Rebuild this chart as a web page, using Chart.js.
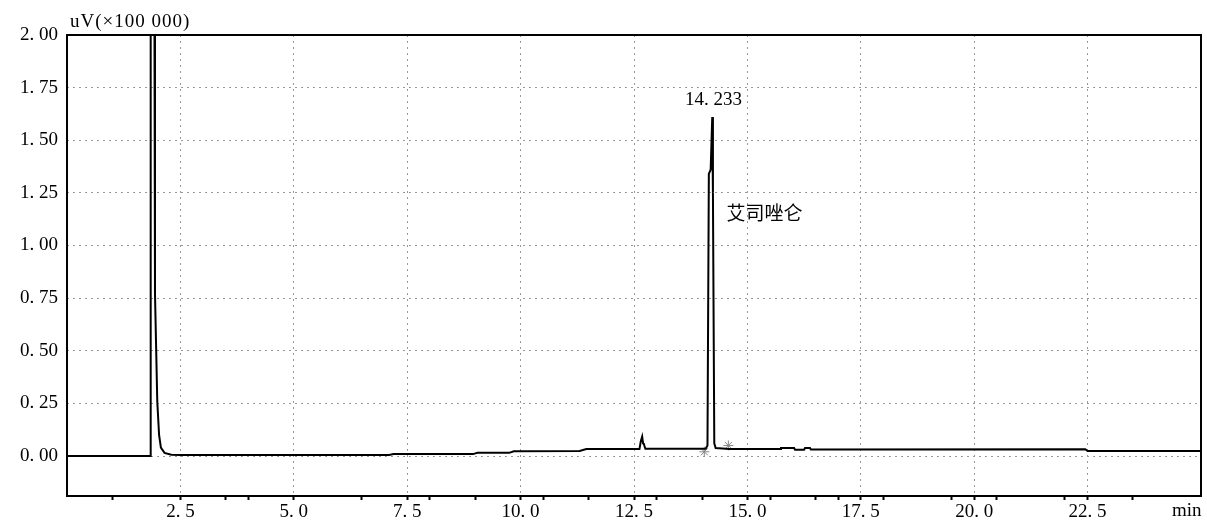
<!DOCTYPE html>
<html>
<head>
<meta charset="utf-8">
<script src="https://cdn.jsdelivr.net/npm/chart.js@4"></script>
<style>
  html, body { margin: 0; padding: 0; background: #fff; }
  #wrap { width: 1207px; height: 522px; }
</style>
</head>
<body>
<div id="wrap"><canvas id="myChart" width="1207" height="522"></canvas></div>
<script>
// retention time (min) and detector signal (uV x 100 000)
const times = [0, 1.84, 1.845, 1.925, 1.94, 1.99, 2.03, 2.07, 2.15, 2.3, 2.5,
  7.1, 7.2, 8.95, 9.05, 9.75, 9.85, 11.3, 11.45, 12.62, 12.65, 12.68, 12.7, 12.72, 12.75,
  14.08, 14.12, 14.15, 14.19, 14.225, 14.24, 14.27, 14.3, 14.45, 14.6,
  15.72, 15.74, 16.03, 16.05, 16.25, 16.27, 16.38, 16.4, 22.45, 22.5, 25]
const signal = [0, 0, 2.4, 2.4, 0.77, 0.26, 0.1, 0.04, 0.015, 0.006, 0.005,
  0.005, 0.009, 0.009, 0.015, 0.015, 0.022, 0.024, 0.033, 0.033, 0.07, 0.092, 0.06, 0.055, 0.034,
  0.034, 0.05, 1.34, 1.36, 1.61, 1.25, 0.06, 0.038, 0.036, 0.033,
  0.033, 0.038, 0.038, 0.03, 0.03, 0.038, 0.038, 0.031, 0.032, 0.024, 0.024]

// integration marks
const markTimes = [14.05, 14.58]
const markValues = [0.02, 0.05]

const majorTicks = [2.5, 5, 7.5, 10, 12.5, 15, 17.5, 20, 22.5]
const minorTicks = [1, 3.5, 4, 6.5, 8, 9, 10.5, 11.5, 13, 14, 15.5, 16.5, 17, 18, 19.5, 20.5, 22, 23.5]
const yTicks = [0, 0.25, 0.5, 0.75, 1, 1.25, 1.5, 1.75, 2]

const peakTime = 14.233
const peakHeight = 1.61
const peakName = '艾司唑仑'

const serif = '"Liberation Serif", "DejaVu Serif", serif'

const isMajor = (v) => majorTicks.some(m => Math.abs(m - v) < 1e-6)

const labels = {
  id: 'labels',
  afterDraw(chart) {
    const c = chart.ctx
    const a = chart.chartArea
    const x = chart.scales.x
    const y = chart.scales.y
    c.save()
    c.strokeStyle = '#000'
    c.lineWidth = 2
    c.strokeRect(a.left, a.top, a.right - a.left, a.bottom - a.top)
    c.fillStyle = '#000'
    c.font = '19px ' + serif
    c.textBaseline = 'middle'
    c.textAlign = 'left'
    c.fillText('min', 1172, 511)
    c.textAlign = 'center'
    c.fillText(peakTime.toFixed(3).replace('.', '. '), x.getPixelForValue(peakTime) + 1, y.getPixelForValue(peakHeight) - 17)
    c.textAlign = 'left'
    c.letterSpacing = '1px'
    c.fillText('uV(×100 000)', 70, 22)
    c.letterSpacing = '0px'
    c.font = '19px "Noto Sans CJK SC", sans-serif'
    c.fillText(peakName, x.getPixelForValue(peakTime) + 14, y.getPixelForValue(1.155))
    c.restore()
  }
}

const ctx = document.getElementById('myChart')

const chart = new Chart(ctx, {
  type: 'line',
  data: {
    datasets: [{
      data: times.map((t, i) => ({ x: t, y: signal[i] })),
      borderColor: '#000',
      borderWidth: 2,
      pointRadius: 0,
      tension: 0
    }, {
      data: markTimes.map((t, i) => ({ x: t, y: markValues[i] })),
      showLine: false,
      pointStyle: 'star',
      pointRadius: 5,
      borderColor: '#888',
      borderWidth: 1
    }]
  },
  options: {
    responsive: false,
    animation: false,
    devicePixelRatio: 1,
    layout: { padding: { left: 0, top: 35, right: 5, bottom: 0 } },
    plugins: { legend: { display: false }, tooltip: { enabled: false } },
    scales: {
      x: {
        type: 'linear',
        min: 0,
        max: 25,
        afterBuildTicks: (s) => { s.ticks = majorTicks.concat(minorTicks).map(v => ({ value: v })) },
        afterFit: (s) => { s.height = 26 },
        border: { display: false, dash: [2, 4] },
        grid: {
          color: (c) => isMajor(c.tick.value) ? '#999' : 'rgba(0,0,0,0)',
          lineWidth: 1,
          drawTicks: true,
          tickLength: 4,
          tickColor: '#000',
          tickBorderDash: [],
          tickWidth: 2
        },
        ticks: {
          autoSkip: false,
          maxRotation: 0,
          padding: 1,
          color: '#000',
          font: { family: serif, size: 19 },
          callback: (v) => isMajor(v) ? v.toFixed(1).replace('.', '. ') : ''
        }
      },
      y: {
        min: -0.19,
        max: 2,
        afterBuildTicks: (s) => { s.ticks = yTicks.map(v => ({ value: v })) },
        afterFit: (s) => { s.width = 67 },
        border: { display: false, dash: [2, 4] },
        grid: {
          color: '#999',
          drawTicks: false
        },
        ticks: {
          padding: 9,
          color: '#000',
          font: { family: serif, size: 19 },
          callback: (v) => v.toFixed(2).replace('.', '. ')
        }
      }
    }
  },
  plugins: [labels]
})
</script>
</body>
</html>
